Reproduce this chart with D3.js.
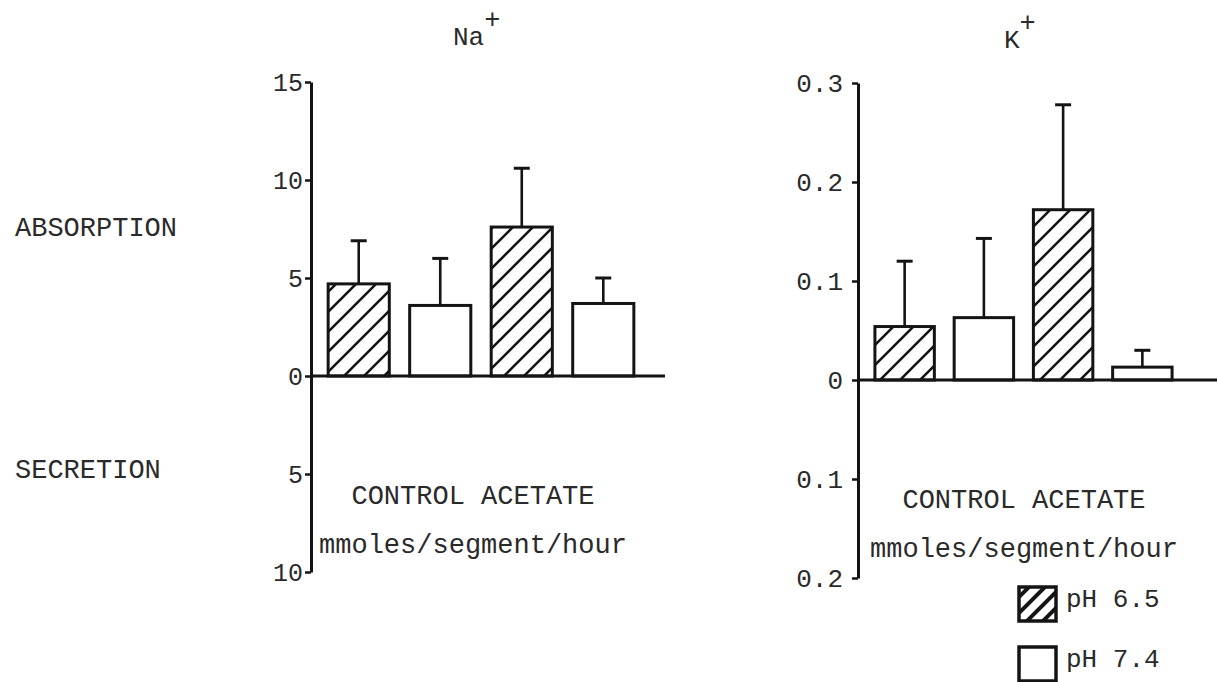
<!DOCTYPE html>
<html>
<head>
<meta charset="utf-8">
<script src="https://cdn.jsdelivr.net/npm/d3@7"></script>
<style>
  html, body { margin: 0; padding: 0; background: #fff; }
  svg { display: block; }
  text { font-family: "Liberation Mono", "Courier New", monospace; fill: #2a2a2a; }
</style>
</head>
<body>
<svg id="chart" width="1217" height="682"></svg>
<script>
// ---- data ----
const categories = ["CONTROL pH 6.5", "CONTROL pH 7.4", "ACETATE pH 6.5", "ACETATE pH 7.4"];
const phGroups = ["pH 6.5", "pH 7.4", "pH 6.5", "pH 7.4"];
const naMeans = [4.7, 3.6, 7.6, 3.7];
const naSE = [2.2, 2.4, 3.0, 1.3];
const kMeans = [0.054, 0.063, 0.172, 0.013];
const kSE = [0.066, 0.080, 0.106, 0.017];
const naTicks = [-10, -5, 0, 5, 10, 15];
const kTicks = [-0.2, -0.1, 0, 0.1, 0.2, 0.3];
const legendLabels = ["pH 6.5", "pH 7.4"];

const svg = d3.select("#chart");
const ink = "#141414";

// hatch pattern
const defs = svg.append("defs");
const pat = defs.append("pattern")
  .attr("id", "hatch").attr("patternUnits", "userSpaceOnUse")
  .attr("width", 20).attr("height", 20);
pat.append("rect").attr("width", 20).attr("height", 20).attr("fill", "#fff");
pat.append("path").attr("d", "M-5,5 L5,-5 M0,20 L20,0 M15,25 L25,15")
  .attr("stroke", ink).attr("stroke-width", 2.6);

const pat2 = defs.append("pattern")
  .attr("id", "hatchLegend").attr("patternUnits", "userSpaceOnUse")
  .attr("width", 16).attr("height", 16);
pat2.append("rect").attr("width", 16).attr("height", 16).attr("fill", "#fff");
pat2.append("path").attr("d", "M-4,4 L4,-4 M0,16 L16,0 M12,20 L20,12")
  .attr("stroke", ink).attr("stroke-width", 4);

function fill(ph) { return ph === "pH 6.5" ? "url(#hatch)" : "#fff"; }

function panel(cfg) {
  const g = svg.append("g");
  const y = d3.scaleLinear().domain(cfg.domain).range(cfg.yRange);
  const x = d3.scaleBand().domain(categories).range(cfg.xRange)
    .paddingInner(0.25).paddingOuter(0.1);

  // y axis
  const axis = d3.axisLeft(y).tickValues(cfg.ticks).tickSize(6).tickSizeOuter(0)
    .tickPadding(cfg.tickPad)
    .tickFormat(d => d === 0 ? "0" : cfg.fmt(Math.abs(d)));
  const ag = g.append("g").attr("transform", `translate(${cfg.axisX},0)`).call(axis);
  ag.select(".domain").attr("stroke", ink).attr("stroke-width", 3);
  ag.selectAll(".tick line").attr("stroke", ink).attr("stroke-width", 2.5);
  ag.selectAll(".tick text").attr("font-size", cfg.tickFont).attr("fill", "#2a2a2a")
    .attr("font-family", "Liberation Mono, monospace");

  // bars
  const data = categories.map((c, i) => ({ c, ph: phGroups[i], v: cfg.means[i], se: cfg.se[i] }));
  g.selectAll("rect.bar").data(data).join("rect")
    .attr("class", "bar")
    .attr("x", d => x(d.c))
    .attr("width", x.bandwidth())
    .attr("y", d => y(d.v))
    .attr("height", d => y(0) - y(d.v))
    .attr("fill", d => fill(d.ph))
    .attr("stroke", ink).attr("stroke-width", 3);

  // error bars
  const eb = g.selectAll("g.err").data(data).join("g").attr("class", "err");
  eb.append("line")
    .attr("x1", d => x(d.c) + x.bandwidth() / 2).attr("x2", d => x(d.c) + x.bandwidth() / 2)
    .attr("y1", d => y(d.v)).attr("y2", d => y(d.v + d.se))
    .attr("stroke", ink).attr("stroke-width", 2.6);
  eb.append("line")
    .attr("x1", d => x(d.c) + x.bandwidth() / 2 - 8).attr("x2", d => x(d.c) + x.bandwidth() / 2 + 8)
    .attr("y1", d => y(d.v + d.se)).attr("y2", d => y(d.v + d.se))
    .attr("stroke", ink).attr("stroke-width", 3);

  // zero baseline
  g.append("line").attr("x1", cfg.axisX).attr("x2", cfg.baseEnd)
    .attr("y1", y(0)).attr("y2", y(0)).attr("stroke", ink).attr("stroke-width", 3);

  // title
  const t = g.append("text").attr("x", cfg.titleX).attr("y", cfg.titleY)
    .attr("font-size", 26);
  t.append("tspan").text(cfg.title);
  t.append("tspan").attr("dy", -17).attr("font-size", 27).text("+");

  // category / unit text
  g.append("text").attr("x", cfg.textCX).attr("y", cfg.catY)
    .attr("text-anchor", "middle").attr("font-size", 27).text("CONTROL ACETATE");
  g.append("text").attr("x", cfg.textCX).attr("y", cfg.unitY)
    .attr("text-anchor", "middle").attr("font-size", 27).text("mmoles/segment/hour");
}

panel({
  domain: [-10, 15], yRange: [572, 82], xRange: [320, 642], axisX: 311, baseEnd: 665,
  ticks: naTicks, fmt: d3.format("d"), tickPad: 2, tickFont: 25, means: naMeans, se: naSE,
  title: "Na", titleX: 453, titleY: 45, textCX: 473, catY: 504, unitY: 553
});

panel({
  domain: [-0.2, 0.3], yRange: [578, 83], xRange: [867, 1180], axisX: 858, baseEnd: 1217,
  ticks: kTicks, fmt: d3.format(".1f"), tickPad: 9, tickFont: 26, means: kMeans, se: kSE,
  title: "K", titleX: 1004, titleY: 48, textCX: 1024, catY: 508, unitY: 557
});

// side labels
svg.append("text").attr("x", 15).attr("y", 236).attr("font-size", 27).text("ABSORPTION");
svg.append("text").attr("x", 15).attr("y", 478).attr("font-size", 27).text("SECRETION");

// legend
const lg = svg.append("g");
const legY = d3.scalePoint().domain(legendLabels).range([587, 647]);
legendLabels.forEach(l => {
  lg.append("rect").attr("x", 1019).attr("y", legY(l)).attr("width", 37).attr("height", 34)
    .attr("fill", l === "pH 6.5" ? "url(#hatchLegend)" : "#fff")
    .attr("stroke", ink).attr("stroke-width", 3.5);
  lg.append("text").attr("x", 1066).attr("y", legY(l) + 20).attr("font-size", 26).text(l);
});
</script>
</body>
</html>
